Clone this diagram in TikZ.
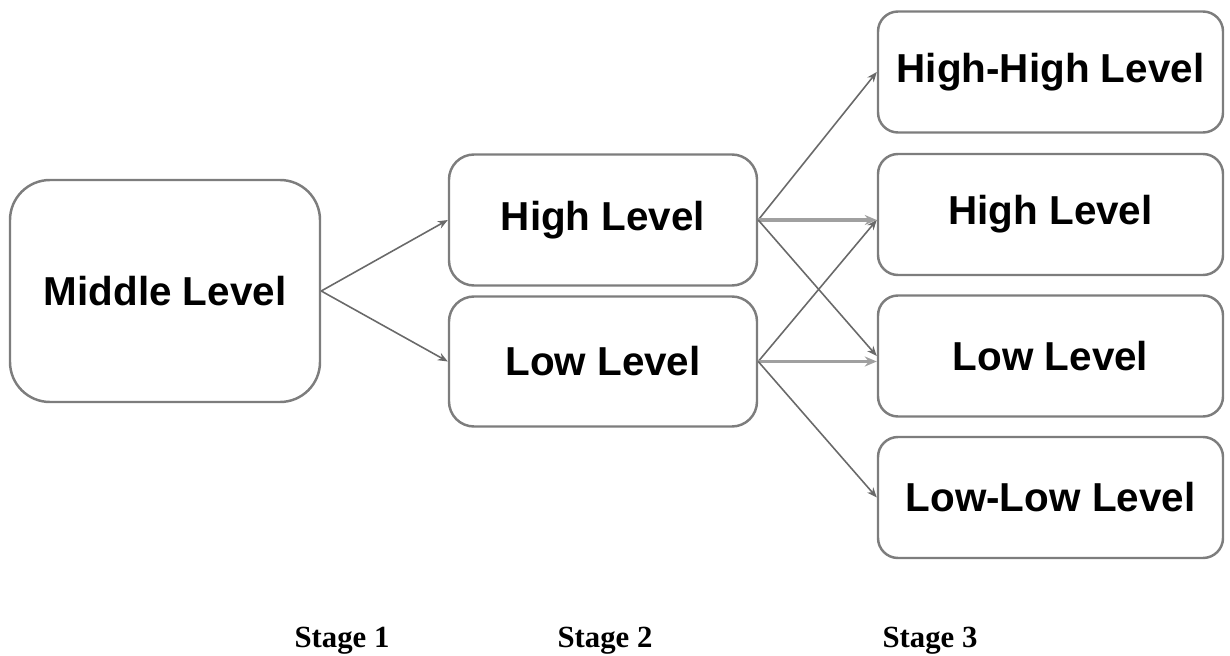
\documentclass[tikz,border=0pt]{standalone}
\usepackage{fontspec}
\setmainfont{Liberation Serif}
\setsansfont{Liberation Sans}
\usepackage{tikz}
\usetikzlibrary{arrows.meta,positioning}
\definecolor{boxgray}{RGB}{125,125,125}
\definecolor{linegray}{RGB}{105,105,105}
\definecolor{flatgray}{RGB}{160,160,160}
\definecolor{tipdark}{RGB}{45,45,45}

\begin{document}
\begin{tikzpicture}[
lvl/.style={
draw=boxgray,
line width=1.4pt,
fill=white,
align=center,
font=\sffamily\bfseries\fontsize{23}{27}\selectfont
},
stage/.style={
anchor=base,
font=\rmfamily\bfseries\fontsize{17.5}{20}\selectfont
},
arrow/.style={
-{Stealth[length=2mm,width=1.6mm,fill=tipdark]},
line width=0.9pt,
draw=linegray
},
harrow/.style={
-{Stealth[length=2.4mm,width=2mm,fill=tipdark]},
line width=2pt,
draw=flatgray
}
]
\useasboundingbox (0,0) rectangle (24.6,13.1);

\node[lvl, rounded corners=0.8cm, minimum width=6.2cm, minimum height=4.44cm] (mid) at (3.3,7.28)
{Middle Level};

\node[lvl, rounded corners=0.5cm, minimum width=6.16cm, minimum height=2.62cm] (high) at (12.06,8.7)
{High Level};

\node[lvl, rounded corners=0.5cm, minimum width=6.16cm, minimum height=2.6cm] (low) at (12.06,5.87)
{Low Level};

\node[lvl, rounded corners=0.4cm, minimum width=6.9cm, minimum height=2.42cm] (hh) at (21.01,11.66)
{High-High Level};

\node[lvl, rounded corners=0.4cm, minimum width=6.9cm, minimum height=2.42cm] (high3) at (21.01,8.81)
{High Level};

\node[lvl, rounded corners=0.4cm, minimum width=6.9cm, minimum height=2.42cm] (low3) at (21.01,5.98)
{Low Level};

\node[lvl, rounded corners=0.4cm, minimum width=6.9cm, minimum height=2.42cm] (ll) at (21.01,3.15)
{Low-Low Level};

\node[stage] (s1) at (6.84,0.16) {Stage 1};
\node[stage] (s2) at (12.1,0.16) {Stage 2};
\node[stage] (s3) at (18.6,0.16) {Stage 3};

\draw[arrow] (mid.east) -- (high.west);
\draw[arrow] (mid.east) -- (low.west);

\draw[arrow] (high.east) -- (hh.west);
\draw[harrow] (high.east) -- (high3.west |- high.east);
\draw[arrow] (high.east) -- (low3.west);

\draw[arrow] (low.east) -- (high3.west |- high.east);
\draw[harrow] (low.east) -- (low3.west |- low.east);
\draw[arrow] (low.east) -- (ll.west);

\end{tikzpicture}
\end{document}
